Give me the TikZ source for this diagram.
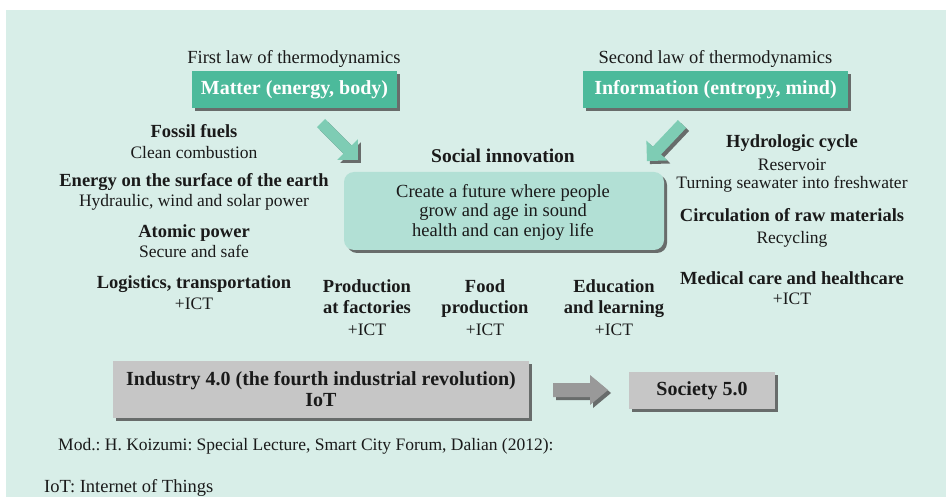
\documentclass[tikz,border=0pt]{standalone}
\usepackage{fontspec}
\setmainfont{Liberation Serif}
\usetikzlibrary{shadows}
\definecolor{bgmint}{HTML}{D8EEE8}
\definecolor{teal}{HTML}{4CBA9B}
\definecolor{arrgreen}{HTML}{7ECCB4}
\definecolor{softbox}{HTML}{B2E0D5}
\definecolor{graybox}{HTML}{C6C6C6}
\definecolor{grayarr}{HTML}{999999}
\definecolor{txt}{HTML}{1A1A1A}
\frenchspacing
\tikzset{
  sh/.style={drop shadow={shadow xshift=3pt,shadow yshift=-3pt,fill=black!70,opacity=0.8}},
  lblb/.style={font=\fontsize{18.5}{22}\selectfont\bfseries, anchor=base, inner sep=0pt, text=txt},
  lbln/.style={font=\fontsize{17.5}{21}\selectfont, anchor=base, inner sep=0pt, text=txt},
  lblw/.style={font=\fontsize{18.5}{21}\selectfont, anchor=base, inner sep=0pt, text=txt},
  hdr/.style={sh, fill=teal, text=white, font=\fontsize{20}{24}\selectfont\bfseries, inner sep=0pt},
  gbox/.style={sh, fill=graybox, text=txt, font=\fontsize{20}{21}\selectfont\bfseries, inner sep=0pt, align=center},
}
% block arrow: #1 style, #2 length, #3 shaft half width, #4 head half width, #5 head length
\newcommand{\blockarrow}[5][]{%
  \fill[#1] (0,-#3) -- ({#2-#5},-#3) -- ({#2-#5},-#4) -- (#2,0) -- ({#2-#5},#4) -- ({#2-#5},#3) -- (0,#3) -- cycle;}
\begin{document}
\begin{tikzpicture}[x=1pt,y=-1pt]
\useasboundingbox (0,0) rectangle (946,497);
\fill[white] (0,0) rectangle (946,497);
\fill[bgmint] (6,10) rectangle (946,497);

% headers
\node[lblw] (law1) at (294,64) {First law of thermodynamics};
\node[lblw] (law2) at (715.5,64) {Second law of thermodynamics};
\node[hdr, minimum width=205pt, minimum height=37pt] (matter) at (294.5,90) {Matter (energy, body)};
\node[hdr, minimum width=265pt, minimum height=37pt] (info) at (715.5,90) {Information (entropy, mind)};

% green arrows
\begin{scope}[shift={(321,123)}, rotate=-45]
  \blockarrow[arrgreen, sh]{52}{5.7}{14.5}{14.5}
\end{scope}
\begin{scope}[shift={(682,124)}, rotate=-133.4]
  \blockarrow[arrgreen, sh]{51}{5.7}{14.5}{14.5}
\end{scope}

% centre
\node[lblb, font=\fontsize{19.5}{22}\selectfont\bfseries] (soc) at (503,163) {Social innovation};
\node[sh, fill=softbox, rounded corners=10pt, minimum width=320pt, minimum height=78pt, inner sep=0pt] (goal) at (504,211) {};
\node[lblw] (g1) at (503,198) {Create a future where people};
\node[lblw] (g2) at (503,217) {grow and age in sound};
\node[lblw] (g3) at (503,237) {health and can enjoy life};

% left column
\node[lblb] (fossil) at (194,138) {Fossil fuels};
\node[lbln] (clean) at (194,159) {Clean combustion};
\node[lblb] (energy) at (194,187) {Energy on the surface of the earth};
\node[lbln] (hydro) at (194,207) {Hydraulic, wind and solar power};
\node[lblb] (atomic) at (194,238) {Atomic power};
\node[lbln] (secure) at (194,258) {Secure and safe};
\node[lblb] (logi) at (194,289) {Logistics, transportation};
\node[lbln] (ict1) at (194,309) {+ICT};

% middle row
\node[lblb] (p1) at (367,293) {Production};
\node[lblb] (p2) at (367,314) {at factories};
\node[lbln] (p3) at (367,335) {+ICT};
\node[lblb] (f1) at (485,293) {Food};
\node[lblb] (f2) at (485,314) {production};
\node[lbln] (f3) at (485,335) {+ICT};
\node[lblb] (e1) at (614,293) {Education};
\node[lblb] (e2) at (614,314) {and learning};
\node[lbln] (e3) at (614,335) {+ICT};

% right column
\node[lblb] (hyd) at (792,148) {Hydrologic cycle};
\node[lbln] (res) at (792,171) {Reservoir};
\node[lbln] (sea) at (792,189) {Turning seawater into freshwater};
\node[lblb] (circ) at (792,222) {Circulation of raw materials};
\node[lbln] (rec) at (792,244) {Recycling};
\node[lblb] (med) at (792,285) {Medical care and healthcare};
\node[lbln] (ict2) at (792,305) {+ICT};

% bottom
\node[gbox, minimum width=416pt, minimum height=57pt] (ind) at (321,389.5) {Industry 4.0 (the fourth industrial revolution)\\IoT};
\begin{scope}[shift={(553,390)}]
  \blockarrow[grayarr, sh]{55}{7}{15}{18}
\end{scope}
\node[gbox, minimum width=146pt, minimum height=37pt] (s5) at (702,390.5) {Society 5.0};

\node[lbln, anchor=base west] (mod) at (58,450) {Mod.: H. Koizumi: Special Lecture, Smart City Forum, Dalian (2012):};
\node[lblw, anchor=base west] (iot) at (44,492) {IoT: Internet of Things};
\end{tikzpicture}
\end{document}
